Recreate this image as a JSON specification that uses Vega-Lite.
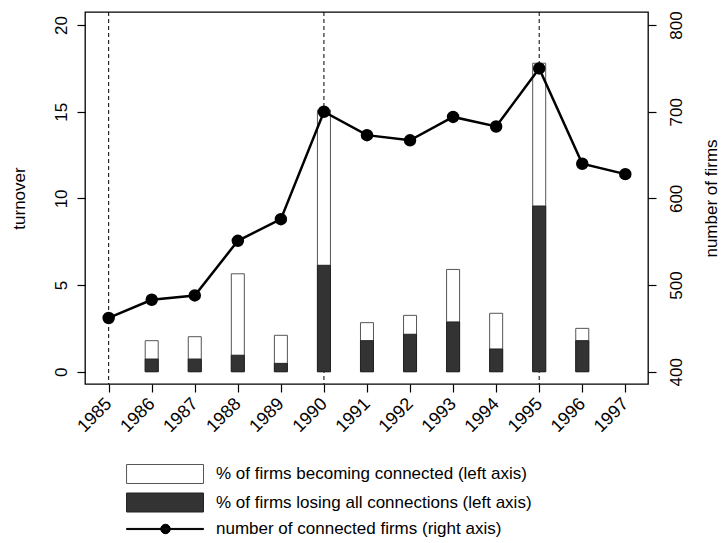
{
  "$schema": "https://vega.github.io/schema/vega-lite/v6.json",
  "width": 563,
  "height": 372,
  "autosize": {"type": "none"},
  "padding": {"left": 85, "top": 12, "right": 73, "bottom": 159},
  "background": "white",
  "config": {
    "font": "Liberation Sans",
    "view": {"stroke": "black", "strokeWidth": 1.3},
    "axis": {"labelFont": "Liberation Sans", "titleFont": "Liberation Sans", "labelFontSize": 17, "titleFontSize": 17, "labelColor": "black", "titleColor": "black", "titleFontWeight": "normal", "tickColor": "black", "tickWidth": 1.2, "tickSize": 8, "domain": false, "grid": false},
    "legend": {"labelFont": "Liberation Sans", "labelFontSize": 17, "labelColor": "black", "symbolSize": 361, "symbolStrokeWidth": 1, "labelOffset": 12, "rowPadding": 4.5, "padding": 0, "symbolOpacity": 1, "labelLimit": 500}
  },
  "data": {"values": [
    {"year": 1985, "total": null, "lose": null, "firms": 462},
    {"year": 1986, "total": 1.79, "lose": 0.73, "firms": 483},
    {"year": 1987, "total": 2.02, "lose": 0.73, "firms": 488},
    {"year": 1988, "total": 5.65, "lose": 0.95, "firms": 551},
    {"year": 1989, "total": 2.1, "lose": 0.48, "firms": 576},
    {"year": 1990, "total": 15.1, "lose": 6.14, "firms": 700},
    {"year": 1991, "total": 2.83, "lose": 1.79, "firms": 673},
    {"year": 1992, "total": 3.25, "lose": 2.16, "firms": 667},
    {"year": 1993, "total": 5.9, "lose": 2.87, "firms": 694},
    {"year": 1994, "total": 3.37, "lose": 1.31, "firms": 683},
    {"year": 1995, "total": 17.8, "lose": 9.56, "firms": 750},
    {"year": 1996, "total": 2.5, "lose": 1.79, "firms": 640},
    {"year": 1997, "total": null, "lose": null, "firms": 628}
  ]},
  "resolve": {"scale": {"y": "independent"}, "axis": {"y": "independent"}},
  "layer": [
    {
      "layer": [
        {
          "data": {"values": [{"year": 1985}, {"year": 1990}, {"year": 1995}]},
          "mark": {"type": "rule", "color": "black", "strokeWidth": 1, "strokeDash": [4, 3]},
          "encoding": {
            "x": {"field": "year", "type": "quantitative", "scale": {"domain": [1984.5665, 1997.411], "nice": false, "zero": false},
              "axis": {"values": [1985,1986,1987,1988,1989,1990,1991,1992,1993,1994,1995,1996,1997], "format": "d", "labelAngle": -45, "labelAlign": "right", "labelBaseline": "middle", "labelPadding": 9, "labelFontSize": 18, "title": null}}
          }
        },
        {
          "transform": [{"filter": "datum.total != null"}],
          "mark": {"type": "bar", "width": 13, "strokeWidth": 1},
          "encoding": {
            "x": {"field": "year", "type": "quantitative"},
            "y": {"field": "total", "type": "quantitative", "scale": {"domain": [-0.71, 20.756], "nice": false, "zero": false},
              "axis": {"orient": "left", "values": [0, 5, 10, 15, 20], "labelAngle": -90, "labelAlign": "center", "labelBaseline": "bottom", "labelPadding": 7, "title": "turnover", "titleAngle": -90, "titleX": -66, "titleY": 186, "titleAlign": "center", "titleBaseline": "middle"}},
            "y2": {"datum": 0},
            "fill": {"datum": "% of firms becoming connected (left axis)", "scale": {"domain": ["% of firms becoming connected (left axis)", "% of firms losing all connections (left axis)", "number of connected firms (right axis)"], "range": ["#ffffff", "#333333", "#000000"]},
              "legend": {"orient": "none", "legendX": 99, "legendY": 452, "title": null}},
            "stroke": {"datum": "% of firms becoming connected (left axis)", "scale": {"domain": ["% of firms becoming connected (left axis)", "% of firms losing all connections (left axis)", "number of connected firms (right axis)"], "range": ["#555555", "#222222", "#000000"]},
              "legend": {"orient": "none", "legendX": 99, "legendY": 452, "title": null}}
          }
        },
        {
          "transform": [{"filter": "datum.lose != null"}],
          "mark": {"type": "bar", "width": 13, "strokeWidth": 1},
          "encoding": {
            "x": {"field": "year", "type": "quantitative"},
            "y": {"field": "lose", "type": "quantitative"},
            "y2": {"datum": 0},
            "fill": {"datum": "% of firms losing all connections (left axis)"},
            "stroke": {"datum": "% of firms losing all connections (left axis)"}
          }
        }
      ]
    },
    {
      "layer": [
        {
          "mark": {"type": "line", "strokeWidth": 2.5},
          "encoding": {
            "x": {"field": "year", "type": "quantitative"},
            "y": {"field": "firms", "type": "quantitative", "scale": {"domain": [385.8, 815.1], "nice": false, "zero": false},
              "axis": {"orient": "right", "values": [400, 500, 600, 700, 800], "labelAngle": -90, "labelAlign": "center", "labelBaseline": "top", "labelPadding": 12, "title": "number of firms", "titleAngle": -90, "titleX": 63, "titleY": 186, "titleAlign": "center", "titleBaseline": "middle"}},
            "stroke": {"datum": "number of connected firms (right axis)"}
          }
        },
        {
          "mark": {"type": "point", "filled": true, "size": 110, "opacity": 1, "shape": "circle"},
          "encoding": {
            "x": {"field": "year", "type": "quantitative"},
            "y": {"field": "firms", "type": "quantitative"},
            "fill": {"datum": "number of connected firms (right axis)"},
            "stroke": {"datum": "number of connected firms (right axis)"}
          }
        },
        {
          "transform": [{"filter": "false"}],
          "mark": {"type": "point", "filled": true, "opacity": 1},
          "encoding": {
            "x": {"field": "year", "type": "quantitative"},
            "y": {"field": "firms", "type": "quantitative"},
            "fill": {"datum": "number of connected firms (right axis)"},
            "stroke": {"datum": "number of connected firms (right axis)"},
            "shape": {"datum": "number of connected firms (right axis)", "scale": {"domain": ["% of firms becoming connected (left axis)", "% of firms losing all connections (left axis)", "number of connected firms (right axis)"], "range": ["M-7.1,-1H1V1H-7.1Z", "M-7.1,-1H1V1H-7.1Z", "M-7.1,-0.06H1V0.06H-7.1Z M-3.5,0A0.5,0.5 0 1,0 -2.5,0A0.5,0.5 0 1,0 -3.5,0Z"]},
              "legend": {"orient": "none", "legendX": 99, "legendY": 452, "title": null}}
          }
        }
      ]
    }
  ]
}
